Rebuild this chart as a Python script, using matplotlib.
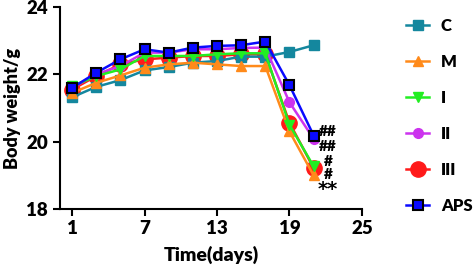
import matplotlib.pyplot as plt

days = [1, 3, 5, 7, 9, 11, 13, 15, 17, 19, 21]
w_C = [21.32, 21.63, 21.83, 22.12, 22.22, 22.35, 22.40, 22.53, 22.53, 22.67, 22.87]
w_M = [21.45, 21.75, 21.97, 22.20, 22.30, 22.35, 22.30, 22.25, 22.25, 20.30, 18.99]
w_I = [21.65, 21.95, 22.15, 22.55, 22.55, 22.55, 22.60, 22.63, 22.63, 20.50, 19.26]
w_II = [21.60, 22.00, 22.25, 22.65, 22.65, 22.75, 22.75, 22.79, 22.80, 21.17, 20.08]
w_III = [21.55, 21.95, 22.30, 22.45, 22.50, 22.55, 22.55, 22.60, 22.60, 20.56, 19.21]
w_APS = [21.60, 22.05, 22.45, 22.75, 22.65, 22.80, 22.85, 22.87, 22.98, 21.68, 20.18]

groups = ["C", "M", "I", "II", "III", "APS"]
marks = ["##", "##", "#", "#", "**"]
mark_y = [20.29, 19.86, 19.40, 19.03, 18.58]

plt.rcParams['font.family'] = ['Lato', 'DejaVu Sans']
plt.rcParams['font.weight'] = 'heavy'

fig = plt.figure(figsize=(4.77, 2.77), dpi=100)
ax = fig.add_axes([0.1258, 0.2466, 0.633, 0.727])

styles = {
    "C":   dict(color="#14879e", marker="s", ms=7, mec="#14879e"),
    "M":   dict(color="#ff8a1a", marker="^", ms=7, mec="#ff8a1a"),
    "I":   dict(color="#22ee22", marker="v", ms=7, mec="#22ee22"),
    "II":  dict(color="#cc33ee", marker="o", ms=7, mec="#cc33ee"),
    "III": dict(color="#ff1a1a", marker="o", ms=11, mec="#ff1a1a"),
    "APS": dict(color="#0a0aff", marker="s", ms=7, mec="black", mew=1.5),
}
data = {"C": w_C, "M": w_M, "I": w_I, "II": w_II, "III": w_III, "APS": w_APS}
order = ["III", "C", "M", "II", "I", "APS"]
lines = {}
for g in order:
    ln, = ax.plot(days, data[g], lw=1.8, label=g, **styles[g])
    lines[g] = ln

for m, y in zip(marks, mark_y):
    if m == "**":
        # Lato's asterisk sits high and small, DejaVu is closer to the original
        ax.text(22.2, y, m, fontsize=14, fontweight='bold', family='DejaVu Sans',
                ha='center', va='center')
    else:
        ax.text(22.2, y, m, fontsize=11, fontweight='heavy', ha='center', va='center')

ax.set_xlim(0, 25)
ax.set_ylim(18, 24)
ax.set_xticks([1, 7, 13, 19, 25])
ax.set_yticks([18, 20, 22, 24])
ax.spines['top'].set_visible(False)
ax.spines['right'].set_visible(False)
for s in ['left', 'bottom']:
    ax.spines[s].set_linewidth(1.5)
ax.tick_params(width=1.5, length=5, labelsize=13.5)
for lab in ax.get_xticklabels() + ax.get_yticklabels():
    lab.set_fontweight('heavy')
ax.set_xlabel("Time(days)", fontsize=14, fontweight='heavy', labelpad=6)
ax.set_ylabel("Body weight/g", fontsize=13, fontweight='heavy', labelpad=4)

ax.legend([lines[g] for g in groups], groups, loc='upper left',
          bbox_to_anchor=(406 / 477, 1 - 18 / 277), bbox_transform=fig.transFigure,
          frameon=False, borderpad=0, borderaxespad=0,
          handlelength=1.4, labelspacing=1.2, handletextpad=0.7,
          prop={'weight': 'heavy', 'size': 12})

fig.savefig("out.png", dpi=100)
